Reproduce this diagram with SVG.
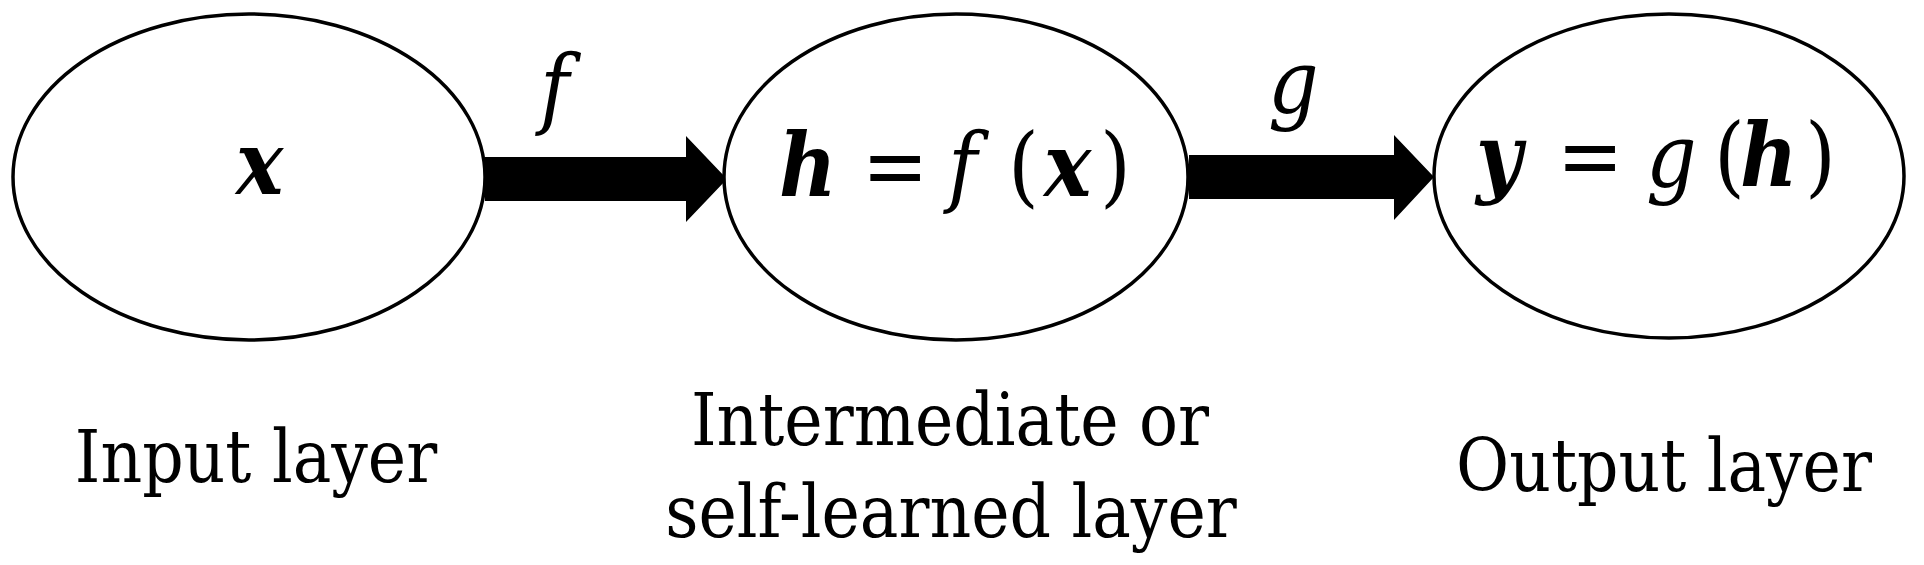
<svg xmlns="http://www.w3.org/2000/svg" width="1924" height="565" viewBox="0 0 1924 565">
<style>
.node{fill:#fff;stroke:#000;stroke-width:3.5}
.m{font-family:'DejaVu Serif Condensed','DejaVu Serif',serif;font-size:88px;fill:#000}
.bi{font-weight:bold;font-style:italic}
.it{font-style:italic}
.lbl{font-family:'DejaVu Serif Condensed','DejaVu Serif',serif;font-size:72px;fill:#000;text-anchor:middle}
.arr{fill:#000}
</style>
<rect width="1924" height="565" fill="#fff"/>
<g id="connectors">
<g id="arrow-f">
<polygon class="arr" points="485,157 686,157 686,136 727,179 686,222 686,201 485,201"/>
<text class="m it" x="540" y="118" font-size="76">f</text>
</g>
<g id="arrow-g">
<polygon class="arr" points="1189,155 1394,155 1394,135 1434,177 1394,220 1394,199 1189,199"/>
<text class="m it" x="1268" y="112" font-size="76">g</text>
</g>
</g>
<g id="node-input">
<ellipse class="node" cx="249" cy="177" rx="236" ry="163"/>
<text class="m bi" x="236" y="194">x</text>
<text class="lbl" x="256" y="482">Input layer</text>
</g>
<g id="node-intermediate">
<ellipse class="node" cx="956" cy="177" rx="232" ry="163"/>
<text class="m"><tspan class="bi" x="779" y="196">h</tspan><tspan x="862">=</tspan><tspan class="it" x="948">f</tspan><tspan x="1008">(</tspan><tspan class="bi" x="1044">x</tspan><tspan x="1100">)</tspan></text>
<text class="lbl" x="950" y="445">Intermediate or</text>
<text class="lbl" x="951" y="537">self-learned layer</text>
</g>
<g id="node-output">
<ellipse class="node" cx="1669" cy="176" rx="235" ry="162"/>
<text class="m"><tspan class="bi" x="1476" y="186">y</tspan><tspan x="1557">=</tspan><tspan class="it" x="1646">g</tspan><tspan x="1714">(</tspan><tspan class="bi" x="1740">h</tspan><tspan x="1805">)</tspan></text>
<text class="lbl" x="1664" y="491">Output layer</text>
</g>
</svg>
